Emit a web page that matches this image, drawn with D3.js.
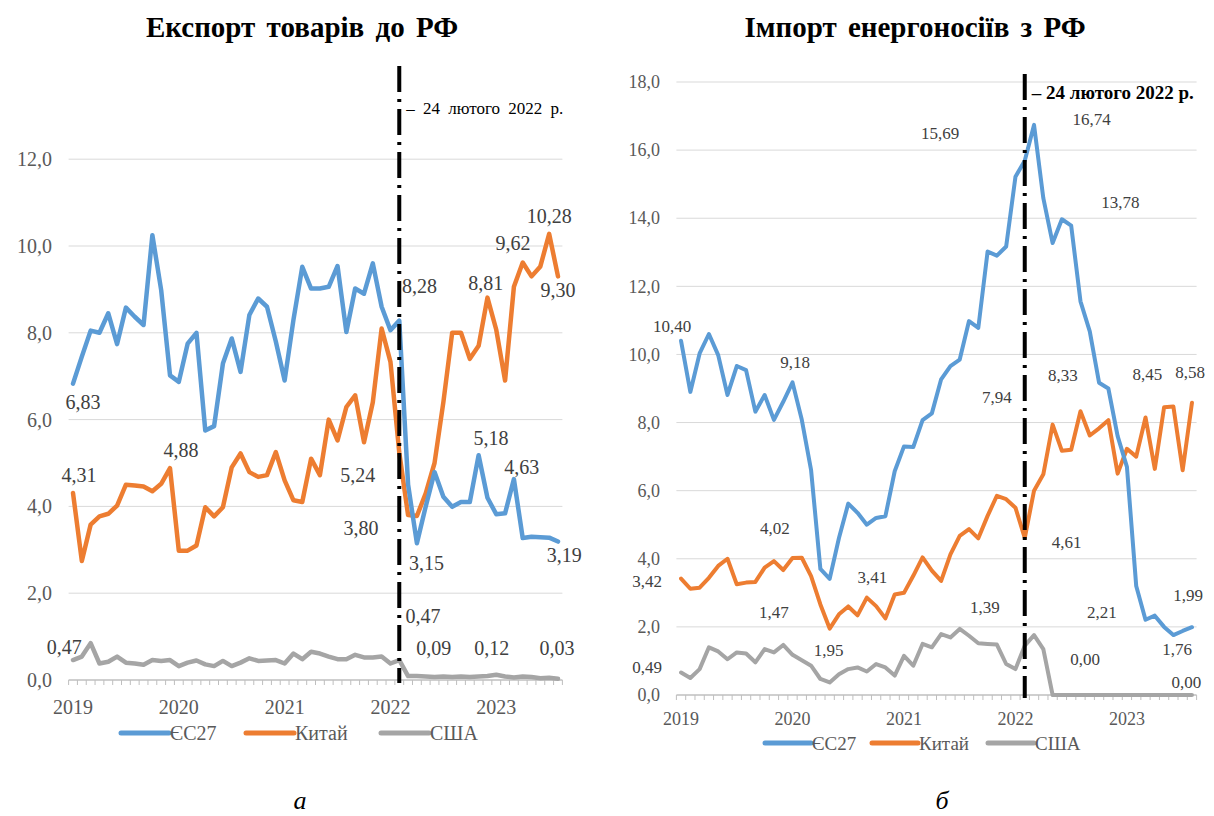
<!DOCTYPE html>
<html>
<head>
<meta charset="utf-8">
<script src="https://cdn.jsdelivr.net/npm/d3@7"></script>
<style>
  html, body { margin: 0; padding: 0; background: #ffffff; }
  svg { display: block; }
  svg text { font-family: "Liberation Serif", "Times New Roman", "DejaVu Serif", serif; }
</style>
</head>
<body>
<svg id="chart" width="1214" height="816"></svg>
<script>
// ---------- data ----------
const years = ["2019", "2020", "2021", "2022", "2023"];
const seriesNames = ["ЄС27", "Китай", "США"];

// Panel a: export of goods to RF (monthly, Jan 2019 – Aug 2023)
const exportEU = [6.83, 7.45, 8.05, 8.0, 8.45, 7.74, 8.58, 8.37, 8.18, 10.25, 8.98, 7.02,
  6.87, 7.75, 8.0, 5.75, 5.85, 7.29, 7.87, 7.1, 8.41, 8.79, 8.6, 7.8,
  6.9, 8.3, 9.52, 9.02, 9.02, 9.06, 9.54, 8.02, 9.02, 8.9, 9.6, 8.6,
  8.06, 8.28, 4.5, 3.15, 4.0, 4.79, 4.22, 3.99, 4.1, 4.1, 5.18, 4.2,
  3.82, 3.84, 4.63, 3.27, 3.3, 3.29, 3.28, 3.19];
const exportCN = [4.31, 2.74, 3.58, 3.77, 3.83, 4.02, 4.5, 4.48, 4.46, 4.35, 4.52, 4.88,
  2.98, 2.98, 3.1, 3.98, 3.77, 3.98, 4.9, 5.22, 4.79, 4.68, 4.72, 5.25,
  4.6, 4.14, 4.1, 5.1, 4.72, 6.0, 5.52, 6.29, 6.56, 5.48, 6.4, 8.1,
  7.33, 5.24, 3.8, 3.78, 4.3, 5.0, 6.4, 8.0, 8.0, 7.4, 7.7, 8.81,
  8.07, 6.9, 9.06, 9.62, 9.3, 9.53, 10.28, 9.3];
const exportUS = [0.46, 0.54, 0.85, 0.38, 0.42, 0.54, 0.4, 0.38, 0.35, 0.46, 0.44, 0.46,
  0.32, 0.4, 0.45, 0.36, 0.32, 0.44, 0.32, 0.4, 0.5, 0.44, 0.45, 0.46,
  0.38, 0.61, 0.48, 0.65, 0.61, 0.54, 0.48, 0.48, 0.58, 0.52, 0.52, 0.54,
  0.38, 0.46, 0.09, 0.09, 0.08, 0.07, 0.08, 0.07, 0.08, 0.07, 0.08, 0.09,
  0.12, 0.08, 0.06, 0.08, 0.07, 0.04, 0.05, 0.03];

// Panel б: import of energy from RF
const importEU = [10.4, 8.9, 10.03, 10.6, 9.98, 8.81, 9.66, 9.54, 8.32, 8.81, 8.08, 8.61,
  9.18, 8.08, 6.6, 3.7, 3.41, 4.61, 5.62, 5.35, 5.0, 5.2, 5.25, 6.57,
  7.3, 7.28, 8.07, 8.27, 9.27, 9.66, 9.85, 10.98, 10.78, 13.02, 12.9, 13.17,
  15.22, 15.69, 16.74, 14.59, 13.27, 13.97, 13.78, 11.56, 10.68, 9.17, 9.0, 7.6,
  6.7, 3.2, 2.21, 2.33, 2.0, 1.76, 1.88, 1.99];
const importCN = [3.42, 3.12, 3.15, 3.44, 3.79, 4.0, 3.25, 3.3, 3.32, 3.74, 3.93, 3.67,
  4.02, 4.03, 3.49, 2.66, 1.95, 2.37, 2.6, 2.34, 2.86, 2.61, 2.25, 2.95,
  3.0, 3.5, 4.04, 3.65, 3.35, 4.13, 4.67, 4.87, 4.6, 5.26, 5.85, 5.75,
  5.5, 4.61, 6.0, 6.48, 7.94, 7.17, 7.2, 8.33, 7.62, 7.83, 8.07, 6.5,
  7.23, 7.0, 8.15, 6.64, 8.45, 8.47, 6.6, 8.58];
const importUS = [0.66, 0.5, 0.76, 1.4, 1.28, 1.05, 1.25, 1.22, 0.96, 1.35, 1.25, 1.47,
  1.18, 1.02, 0.86, 0.47, 0.37, 0.61, 0.76, 0.81, 0.69, 0.91, 0.81, 0.57,
  1.15, 0.86, 1.5, 1.4, 1.79, 1.69, 1.94, 1.74, 1.52, 1.5, 1.48, 0.91,
  0.76, 1.45, 1.76, 1.35, 0, 0, 0, 0, 0, 0, 0, 0,
  0, 0, 0, 0, 0, 0, 0, 0];

// Data labels: [text, month position, value position]
const exportLabels = [
  ["6,83", 1.13, 6.41], ["4,31", 0.68, 4.72], ["4,88", 12.24, 5.30], ["5,24", 32.3, 4.72],
  ["3,80", 32.65, 3.50], ["3,15", 40.1, 2.70], ["5,18", 47.4, 5.58], ["4,63", 50.9, 4.91],
  ["3,19", 55.7, 2.88], ["8,28", 39.3, 9.08], ["8,81", 46.8, 9.15], ["9,62", 49.9, 10.07],
  ["10,28", 54.0, 10.69], ["9,30", 55.0, 8.99], ["0,47", -1.0, 0.76], ["0,47", 39.7, 1.47],
  ["0,09", 40.9, 0.74], ["0,12", 47.5, 0.74], ["0,03", 54.9, 0.74]
];
const importLabels = [
  ["10,40", -0.97, 10.81], ["9,18", 12.27, 9.75], ["4,02", 10.1, 4.90], ["3,41", 20.6, 3.44],
  ["1,47", 10.0, 2.41], ["1,95", 15.9, 1.32], ["3,42", -3.66, 3.32], ["0,49", -3.66, 0.82],
  ["15,69", 27.9, 16.5], ["16,74", 44.2, 16.89], ["13,78", 47.3, 14.45], ["7,94", 34.0, 8.75],
  ["8,33", 41.1, 9.37], ["8,45", 50.2, 9.40], ["8,58", 54.8, 9.46], ["4,61", 41.5, 4.49],
  ["1,39", 32.7, 2.56], ["2,21", 45.3, 2.41], ["0,00", 43.5, 1.03], ["1,76", 53.4, 1.35],
  ["1,99", 54.6, 2.91], ["0,00", 54.4, 0.38]
];

const exportTicks = [0, 2, 4, 6, 8, 10, 12];
const importTicks = [0, 2, 4, 6, 8, 10, 12, 14, 16, 18];
const invasionIndex = 37; // February 2022
const colors = ["#5b9bd5", "#ed7d31", "#a5a5a5"];

// ---------- drawing ----------
const FONT = "Liberation Serif, Times New Roman, DejaVu Serif, serif";
const svg = d3.select("#chart");
const fmt = v => d3.format(".1f")(v).replace(".", ",");
const nMonths = exportEU.length;
const months = d3.range(nMonths);

function panel(cfg) {
  const g = svg.append("g").attr("font-family", FONT);
  const x = d3.scalePoint().domain(months).range([cfg.x0, cfg.x1]).padding(0.5);
  const step = x.step();
  const xi = i => cfg.x0 + step * (i + 0.5);
  const y = d3.scaleLinear().domain([0, cfg.ymax]).range([cfg.yb, cfg.yt]);

  // title
  g.append("text").attr("x", cfg.titleX).attr("y", 37).attr("text-anchor", "middle")
    .attr("font-family", FONT).attr("font-size", 29).attr("font-weight", "bold")
    .attr("word-spacing", 4).attr("fill", "#000").text(cfg.title);

  // gridlines
  g.selectAll(".grid").data(cfg.ticks.filter(t => t > 0)).enter().append("line")
    .attr("x1", cfg.x0).attr("x2", cfg.x1).attr("y1", d => y(d)).attr("y2", d => y(d))
    .attr("stroke", "#d9d9d9").attr("stroke-width", 1);

  // y axis labels
  const yAxis = d3.axisLeft(y).tickValues(cfg.ticks).tickFormat(fmt).tickSize(0).tickPadding(0);
  const ya = g.append("g").attr("transform", `translate(${cfg.yLabelX},0)`).call(yAxis)
    .attr("font-family", FONT);
  ya.select(".domain").remove();
  ya.selectAll("text").attr("font-size", cfg.tickSize).attr("fill", "#595959")
    .attr("font-family", FONT);

  // x axis line + monthly ticks
  g.append("line").attr("x1", cfg.x0).attr("x2", cfg.x1).attr("y1", y(0)).attr("y2", y(0))
    .attr("stroke", "#bfbfbf").attr("stroke-width", 1.3);
  g.selectAll(".mt").data(d3.range(nMonths + 1)).enter().append("line")
    .attr("x1", d => cfg.x0 + d * step).attr("x2", d => cfg.x0 + d * step)
    .attr("y1", y(0)).attr("y2", y(0) + 5).attr("stroke", "#bfbfbf").attr("stroke-width", 1);
  g.selectAll(".yl").data(years).enter().append("text")
    .attr("x", (d, k) => x(k * 12)).attr("y", cfg.yearY).attr("text-anchor", "middle")
    .attr("dominant-baseline", "central").attr("font-size", cfg.tickSize).attr("fill", "#595959")
    .attr("font-family", FONT).text(d => d);

  // series lines
  const line = d3.line().x((d, i) => x(i)).y(d => y(d));
  [2, 1, 0].forEach(k => {
    g.append("path").datum(cfg.series[k]).attr("d", line).attr("fill", "none")
      .attr("stroke", colors[k]).attr("stroke-width", cfg.lw)
      .attr("stroke-linejoin", "round").attr("stroke-linecap", "round");
  });

  // invasion marker: dash-dot vertical line
  const vx = x(invasionIndex);
  g.append("line").attr("x1", vx).attr("x2", vx).attr("y1", cfg.markTop).attr("y2", y(0) + 3)
    .attr("stroke", "#000").attr("stroke-width", 4).attr("stroke-dasharray", "26 7 3 7");
  g.append("text").attr("x", vx + 7).attr("y", cfg.markTextY).attr("dominant-baseline", "central")
    .attr("font-family", FONT).attr("font-size", cfg.markSize).attr("font-weight", cfg.markWeight)
    .attr("word-spacing", cfg.markWordSpacing).attr("fill", "#000")
    .text("– 24 лютого 2022 р.");

  // data labels
  g.selectAll(".dl").data(cfg.labels).enter().append("text")
    .attr("x", d => xi(d[1])).attr("y", d => y(d[2])).attr("text-anchor", "middle")
    .attr("dominant-baseline", "central").attr("font-size", cfg.labelSize).attr("fill", "#404040")
    .attr("font-family", FONT).text(d => d[0]);

  // legend
  const lg = g.append("g");
  seriesNames.forEach((name, k) => {
    const lx = cfg.legendX[k];
    lg.append("line").attr("x1", lx).attr("x2", lx + cfg.legendLine).attr("y1", cfg.legendY).attr("y2", cfg.legendY)
      .attr("stroke", colors[k]).attr("stroke-width", 5).attr("stroke-linecap", "round");
    lg.append("text").attr("x", lx + cfg.legendLine + 1).attr("y", cfg.legendY).attr("dominant-baseline", "central")
      .attr("font-family", FONT).attr("font-size", cfg.legendSize).attr("fill", "#595959").text(name);
  });

  // caption
  g.append("text").attr("x", cfg.captionX).attr("y", 809).attr("text-anchor", "middle")
    .attr("font-family", FONT).attr("font-size", 26).attr("font-style", "italic")
    .attr("fill", "#000").text(cfg.caption);
}

panel({
  title: "Експорт товарів до РФ", titleX: 302,
  series: [exportEU, exportCN, exportUS], labels: exportLabels,
  x0: 68.6, x1: 562.4, yb: 680, yt: 680 - 14 * 43.4, ymax: 14, ticks: exportTicks,
  yLabelX: 52, tickSize: 20, labelSize: 20, lw: 4.5, yearY: 707,
  markTop: 66, markTextY: 108, markSize: 17, markWeight: "normal", markWordSpacing: 4,
  legendX: [121, 246, 381], legendLine: 48, legendY: 733, legendSize: 20,
  caption: "а", captionX: 300
});

panel({
  title: "Імпорт енергоносіїв з РФ", titleX: 915,
  series: [importEU, importCN, importUS], labels: importLabels,
  x0: 676.4, x1: 1196.6, yb: 695, yt: 82, ymax: 18, ticks: importTicks,
  yLabelX: 660, tickSize: 18, labelSize: 17, lw: 4, yearY: 719,
  markTop: 74, markTextY: 92, markSize: 19, markWeight: "bold", markWordSpacing: 0,
  legendX: [765, 872, 988], legendLine: 46, legendY: 743, legendSize: 19,
  caption: "б", captionX: 942
});
</script>
</body>
</html>
